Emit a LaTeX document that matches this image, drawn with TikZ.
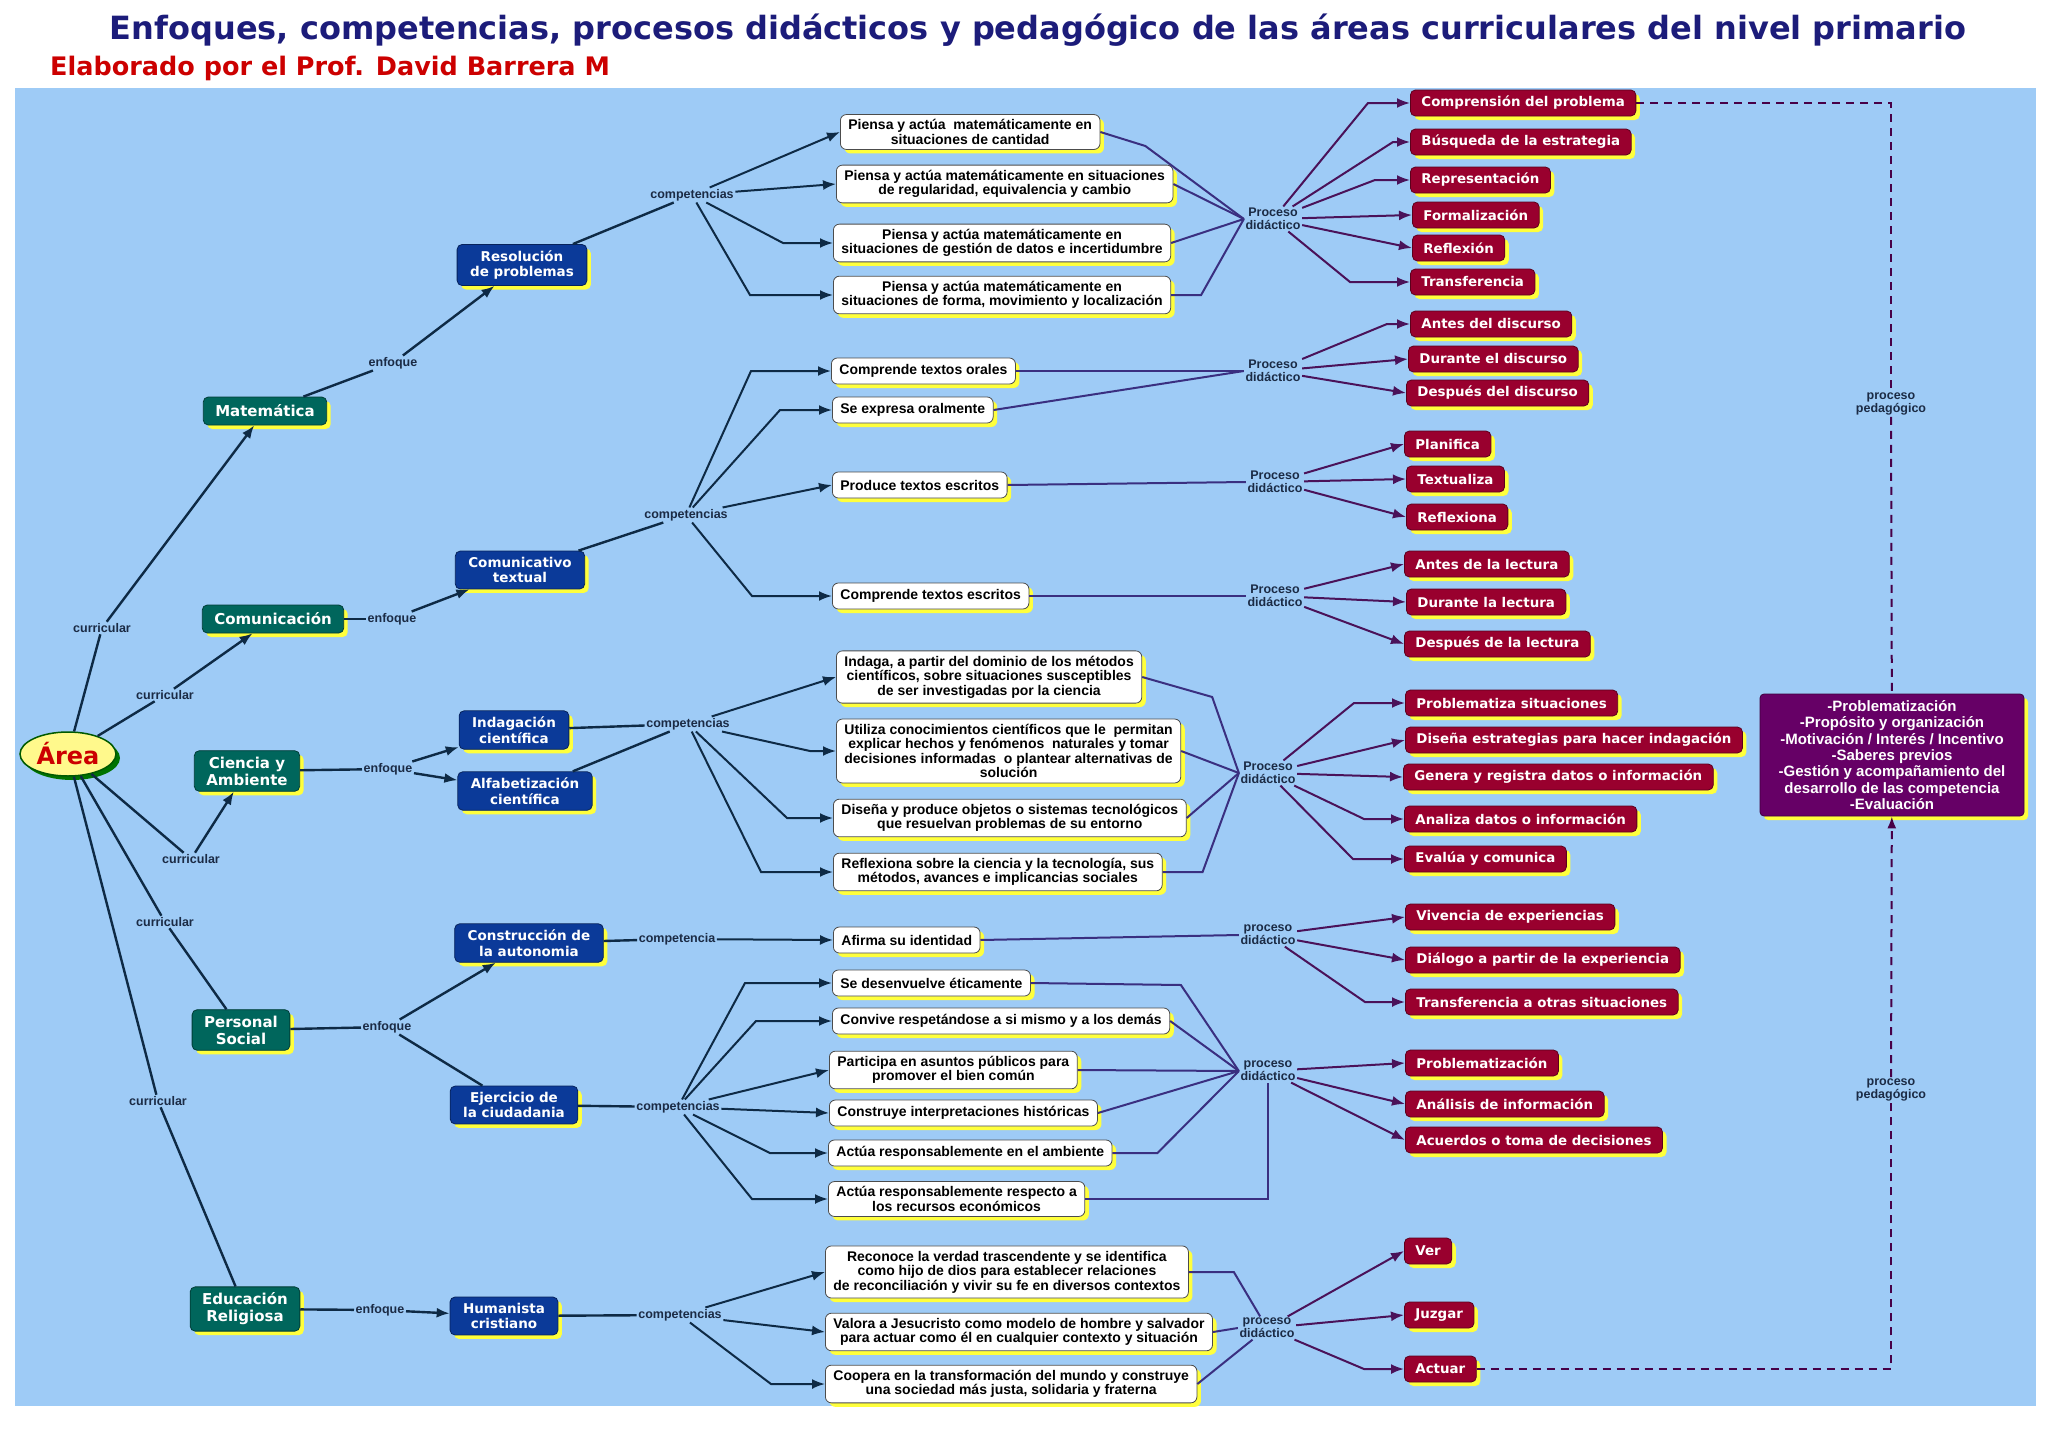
\documentclass[tikz,border=0pt]{standalone}
\usepackage{fontspec}
\setmainfont{Liberation Sans}
\newfontfamily\dvfont{DejaVu Sans}
\usetikzlibrary{arrows.meta, positioning, calc, shapes.geometric, shadows}
\definecolor{skybg}{HTML}{9ECBF6}
\definecolor{titlenavy}{HTML}{1C1C7A}
\definecolor{authorred}{HTML}{CC0000}
\definecolor{areagreen}{HTML}{00665C}
\definecolor{enfblue}{HTML}{0B3A99}
\definecolor{procred}{HTML}{99002E}
\definecolor{pedpurple}{HTML}{660066}
\definecolor{shyel}{HTML}{FFFF3C}
\definecolor{linkdark}{HTML}{0E2A45}
\definecolor{linkpurple}{HTML}{3A2F80}
\definecolor{procline}{HTML}{4A1259}
\definecolor{labtext}{HTML}{1B2B45}
\tikzset{
  yshadow/.style={drop shadow={shadow xshift=4pt, shadow yshift=-4pt, fill=shyel, opacity=1}},
  areanode/.style={
    ellipse, fill=yellow!45, draw=green!35!black, line width=1.5pt,
    minimum width=96pt, minimum height=44pt, inner sep=0pt,
    text=red!80!black, font=\dvfont\bfseries\fontsize{24}{26}\selectfont,
    drop shadow={shadow xshift=4pt, shadow yshift=-4pt, fill=green!45!black, opacity=1}
  },
  areabox/.style={
    rectangle, rounded corners=5pt,
    fill=areagreen, draw=areagreen!60!black, line width=0.8pt,
    minimum height=28pt, inner xsep=12pt, inner ysep=6pt,
    align=center, text=white, font=\dvfont\bfseries\fontsize{15}{17}\selectfont, yshadow
  },
  enfbox/.style={areabox, fill=enfblue, draw=enfblue!60!black, inner xsep=13pt,
    font=\dvfont\bfseries\fontsize{13.5}{15.5}\selectfont},
  compbox/.style={
    rectangle, rounded corners=6pt,
    fill=white, draw=gray!60!black, line width=0.8pt,
    minimum height=26pt, inner xsep=8pt, inner ysep=5pt, anchor=west,
    align=center, text=black, font=\bfseries\fontsize{14}{14.5}\selectfont, yshadow
  },
  procbox/.style={
    rectangle, rounded corners=5pt,
    fill=procred, draw=procred!60!black, line width=0.8pt,
    minimum height=26pt, inner xsep=11pt, anchor=west,
    text=white, font=\dvfont\bfseries\fontsize{13.4}{15}\selectfont, yshadow
  },
  pedbox/.style={
    rectangle, rounded corners=4pt,
    fill=pedpurple, draw=pedpurple!60!black, line width=0.8pt,
    minimum width=264pt, minimum height=122pt, align=center,
    text=white, font=\bfseries\fontsize{15}{16.3}\selectfont, yshadow
  },
  linklabel/.style={font=\bfseries\fontsize{12.5}{13}\selectfont, text=labtext, align=center, inner sep=1.5pt},
  titletext/.style={font=\dvfont\bfseries\fontsize{32}{35}\selectfont, text=titlenavy},
  authortext/.style={font=\dvfont\bfseries\fontsize{25.5}{28}\selectfont, text=authorred, inner sep=0pt},
  lk/.style={draw=linkdark, line width=2.4pt},
  lkarr/.style={lk, -{Latex[length=13pt,width=10pt]}},
  carr/.style={draw=linkdark, line width=2pt, -{Latex[length=13pt,width=10pt]}},
  cline/.style={draw=linkpurple, line width=2pt},
  parr/.style={draw=procline, line width=2pt, -{Latex[length=13pt,width=10pt]}},
  pedline/.style={draw=pedpurple!70!black, line width=2pt, dash pattern=on 8pt off 6pt},
}
\begin{document}
\begin{tikzpicture}[x=1pt, y=-1pt]
  \useasboundingbox (0,0) rectangle (2048,1448);
  \fill[white] (0,0) rectangle (2048,1448);
  \fill[skybg] (15,88) rectangle (2036,1406);

  % titulo
  \node[titletext] (title) at (1038,30) {Enfoques, competencias, procesos didácticos y pedagógico de las áreas curriculares del nivel primario};
  \node[authortext, anchor=west] (author) at (50,68) {Elaborado por el Prof. David Barrera M};

  % area y areas curriculares
  \node[areanode] (area) at (68,754) {Área};
  \node[areabox] (mat) at (265,411) {Matemática};
  \node[areabox] (com) at (273,619) {Comunicación};
  \node[areabox] (cya) at (247,771) {Ciencia y\\Ambiente};
  \node[areabox] (pso) at (241,1030) {Personal\\Social};
  \node[areabox] (edr) at (245,1309) {Educación\\Religiosa};

  % enfoques
  \node[enfbox] (rdp) at (522,265) {Resolución\\de problemas};
  \node[enfbox] (ctx) at (520,570) {Comunicativo\\textual};
  \node[enfbox] (ind) at (514,730) {Indagación\\científica};
  \node[enfbox] (alf) at (525,791) {Alfabetización\\científica};
  \node[enfbox] (cau) at (529,943) {Construcción de\\la autonomia};
  \node[enfbox] (eci) at (514,1105) {Ejercicio de\\la ciudadania};
  \node[enfbox] (hcr) at (504,1316) {Humanista\\cristiano};

  % palabras de enlace
  \node[linklabel] (cur1) at (102,628) {curricular};
  \node[linklabel] (cur2) at (165,695) {curricular};
  \node[linklabel] (cur3) at (191,859) {curricular};
  \node[linklabel] (cur4) at (165,922) {curricular};
  \node[linklabel] (cur5) at (158,1101) {curricular};
  \node[linklabel] (enf1) at (393,363) {enfoque};
  \node[linklabel] (enf2) at (392,619) {enfoque};
  \node[linklabel] (enf3) at (388,769) {enfoque};
  \node[linklabel] (enf4) at (387,1027) {enfoque};
  \node[linklabel] (enf5) at (380,1310) {enfoque};
  \node[linklabel] (cmp1) at (692,195) {competencias};
  \node[linklabel] (cmp2) at (686,515) {competencias};
  \node[linklabel] (cmp3) at (688,724) {competencias};
  \node[linklabel] (cmp4) at (677,939) {competencia};
  \node[linklabel] (cmp5) at (678,1107) {competencias};
  \node[linklabel] (cmp6) at (680,1315) {competencias};
  \node[linklabel] (pd1) at (1273,219) {Proceso\\didáctico};
  \node[linklabel] (pd2) at (1273,371) {Proceso\\didáctico};
  \node[linklabel] (pd3) at (1275,482) {Proceso\\didáctico};
  \node[linklabel] (pd4) at (1275,596) {Proceso\\didáctico};
  \node[linklabel] (pd5) at (1268,773) {Proceso\\didáctico};
  \node[linklabel] (pd6) at (1268,935) {proceso\\didáctico};
  \node[linklabel] (pd7) at (1268,1071) {proceso\\didáctico};
  \node[linklabel] (pd8) at (1267,1328) {proceso\\didáctico};
  \node[linklabel] (ppl1) at (1891,404) {proceso\\pedagógico};
  \node[linklabel] (ppl2) at (1891,1090) {proceso\\pedagógico};

  % competencias
  \node[compbox] (m1) at (840,132) {Piensa y actúa \ matemáticamente en\\situaciones de cantidad};
  \node[compbox] (m2) at (836,184) {Piensa y actúa matemáticamente en situaciones\\de regularidad, equivalencia y cambio};
  \node[compbox] (m3) at (833,243) {Piensa y actúa matemáticamente en\\situaciones de gestión de datos e incertidumbre};
  \node[compbox] (m4) at (833,295) {Piensa y actúa matemáticamente en\\situaciones de forma, movimiento y localización};
  \node[compbox] (c1) at (831,371) {Comprende textos orales};
  \node[compbox] (c2) at (832,410) {Se expresa oralmente};
  \node[compbox] (c3) at (832,485) {Produce textos escritos};
  \node[compbox] (c4) at (832,596) {Comprende textos escritos};
  \node[compbox] (s1) at (836,677) {Indaga, a partir del dominio de los métodos\\científicos, sobre situaciones susceptibles\\de ser investigadas por la ciencia};
  \node[compbox] (s2) at (836,751) {Utiliza conocimientos científicos que le \ permitan\\explicar hechos y fenómenos \ naturales y tomar\\decisiones informadas \ o plantear alternativas de\\solución};
  \node[compbox] (s3) at (833,818) {Diseña y produce objetos o sistemas tecnológicos\\que resuelvan problemas de su entorno};
  \node[compbox] (s4) at (833,872) {Reflexiona sobre la ciencia y la tecnología, sus\\métodos, avances e implicancias sociales};
  \node[compbox] (p0) at (833,940) {Afirma su identidad};
  \node[compbox] (p1) at (832,983) {Se desenvuelve éticamente};
  \node[compbox] (p2) at (832,1021) {Convive respetándose a si mismo y a los demás};
  \node[compbox] (p3) at (829,1070) {Participa en asuntos públicos para\\promover el bien común};
  \node[compbox] (p4) at (829,1113) {Construye interpretaciones históricas};
  \node[compbox] (p5) at (828,1153) {Actúa responsablemente en el ambiente};
  \node[compbox] (p6) at (828,1199) {Actúa responsablemente respecto a\\los recursos económicos};
  \node[compbox] (r1) at (825,1272) {Reconoce la verdad trascendente y se identifica\\como hijo de dios para establecer relaciones\\de reconciliación y vivir su fe en diversos contextos};
  \node[compbox] (r2) at (825,1332) {Valora a Jesucristo como modelo de hombre y salvador\\para actuar como él en cualquier contexto y situación};
  \node[compbox] (r3) at (825,1384) {Coopera en la transformación del mundo y construye\\una sociedad más justa, solidaria y fraterna};

  % procesos didacticos
  \node[procbox] (rp1) at (1410,103) {Comprensión del problema};
  \node[procbox] (rp2) at (1410,142) {Búsqueda de la estrategia};
  \node[procbox] (rp3) at (1410,180) {Representación};
  \node[procbox] (rp4) at (1412,215) {Formalización};
  \node[procbox] (rp5) at (1412,248) {Reflexión};
  \node[procbox] (rp6) at (1410,282) {Transferencia};
  \node[procbox] (ro1) at (1410,324) {Antes del discurso};
  \node[procbox] (ro2) at (1408,359) {Durante el discurso};
  \node[procbox] (ro3) at (1406,393) {Después del discurso};
  \node[procbox] (re1) at (1404,444) {Planifica};
  \node[procbox] (re2) at (1406,479) {Textualiza};
  \node[procbox] (re3) at (1406,517) {Reflexiona};
  \node[procbox] (rl1) at (1404,564) {Antes de la lectura};
  \node[procbox] (rl2) at (1406,602) {Durante la lectura};
  \node[procbox] (rl3) at (1404,644) {Después de la lectura};
  \node[procbox] (rc1) at (1405,703) {Problematiza situaciones};
  \node[procbox] (rc2) at (1405,740) {Diseña estrategias para hacer indagación};
  \node[procbox] (rc3) at (1403,777) {Genera y registra datos o información};
  \node[procbox] (rc4) at (1404,819) {Analiza datos o información};
  \node[procbox] (rc5) at (1404,859) {Evalúa y comunica};
  \node[procbox] (rs1) at (1405,917) {Vivencia de experiencias};
  \node[procbox] (rs2) at (1405,960) {Diálogo a partir de la experiencia};
  \node[procbox] (rs3) at (1405,1002) {Transferencia a otras situaciones};
  \node[procbox] (rs4) at (1405,1063) {Problematización};
  \node[procbox] (rs5) at (1405,1104) {Análisis de información};
  \node[procbox] (rs6) at (1405,1140) {Acuerdos o toma de decisiones};
  \node[procbox] (rr1) at (1404,1251) {Ver};
  \node[procbox] (rr2) at (1404,1315) {Juzgar};
  \node[procbox] (rr3) at (1404,1369) {Actuar};

  % proceso pedagogico
  \node[pedbox] (pbox) at (1892,755) {-Problematización\\-Propósito y organización\\-Motivación / Interés / Incentivo\\-Saberes previos\\-Gestión y acompañamiento del\\desarrollo de las competencia\\-Evaluación};

  % area -> areas
  \draw[lk] (area) -- (cur1);  \draw[lkarr] (cur1) -- (mat);
  \draw[lk] (area) -- (cur2);  \draw[lkarr] (cur2) -- (com);
  \draw[lk] (area) -- (cur3);  \draw[lkarr] (cur3) -- (cya);
  \draw[lk] (area) -- (cur4) -- (pso);
  \draw[lk] (area) -- (cur5) -- (edr);

  % areas -> enfoques
  \draw[lk] (mat) -- (enf1);  \draw[lkarr] (enf1) -- (rdp);
  \draw[lk] (com) -- (enf2);  \draw[lkarr] (enf2) -- (ctx);
  \draw[lk] (cya) -- (enf3);  \draw[lkarr] (enf3) -- (ind);  \draw[lkarr] (enf3) -- (alf);
  \draw[lk] (pso) -- (enf4);  \draw[lkarr] (enf4) -- (cau);  \draw[lk] (enf4) -- (eci);
  \draw[lk] (edr) -- (enf5);  \draw[lkarr] (enf5) -- (hcr);

  % enfoques -> competencias
  \draw[lk] (rdp) -- (cmp1);
  \draw[lk] (ctx) -- (cmp2);
  \draw[lk] (ind) -- (cmp3);  \draw[lk] (alf) -- (cmp3);
  \draw[lk] (cau) -- (cmp4);  \draw[carr] (cmp4) -- (p0.west);
  \draw[lk] (eci) -- (cmp5);
  \draw[lk] (hcr) -- (cmp6);

  \foreach \t in {m1, m2} \draw[carr] (cmp1) -- (\t.west);
  \foreach \t/\d in {m3/50, m4/83} \draw[carr] (cmp1) -- ($(\t.west)+(-\d,0)$) -- (\t.west);
  \draw[carr] (cmp2) -- (c3.west);
  \foreach \t/\d in {c1/80, c2/52, c4/80} \draw[carr] (cmp2) -- ($(\t.west)+(-\d,0)$) -- (\t.west);
  \draw[carr] (cmp3) -- (s1.west);
  \foreach \t/\d in {s2/26, s3/46, s4/72} \draw[carr] (cmp3) -- ($(\t.west)+(-\d,0)$) -- (\t.west);
  \foreach \t in {p3, p4} \draw[carr] (cmp5) -- (\t.west);
  \foreach \t/\d in {p1/87, p2/76, p5/58, p6/76} \draw[carr] (cmp5) -- ($(\t.west)+(-\d,0)$) -- (\t.west);
  \foreach \t in {r1, r2} \draw[carr] (cmp6) -- (\t.west);
  \draw[carr] (cmp6) -- ($(r3.west)+(-54,0)$) -- (r3.west);

  % competencias -> proceso didactico
  \draw[cline] (m1.east) -- ++(45,14) -- (pd1.west);
  \draw[cline] (m2.east) -- (pd1.west);
  \draw[cline] (m3.east) -- (pd1.west);
  \draw[cline] (m4.east) -- ++(30,0) -- (pd1.west);
  \draw[cline] (c1.east) -- (pd2.west);
  \draw[cline] (c2.east) -- (pd2.west);
  \draw[cline] (c3.east) -- (pd3.west);
  \draw[cline] (c4.east) -- (pd4.west);
  \draw[cline] (s1.east) -- ++(70,20) -- (pd5.west);
  \draw[cline] (s2.east) -- (pd5.west);
  \draw[cline] (s3.east) -- (pd5.west);
  \draw[cline] (s4.east) -- ++(40,0) -- (pd5.west);
  \draw[cline] (p0.east) -- (pd6.west);
  \draw[cline] (p1.east) -- ++(150,2) -- (pd7.west);
  \foreach \t in {p2, p3, p4} \draw[cline] (\t.east) -- (pd7.west);
  \draw[cline] (p5.east) -- ++(45,0) -- (pd7.west);
  \draw[cline] (p6.east) -- (p6.east -| pd7) -- (pd7);
  \draw[cline] (r1.east) -- ++(45,0) -- (pd8);
  \draw[cline] (r2.east) -- (pd8.west);
  \draw[cline] (r3.east) -- (pd8);

  % proceso didactico -> pasos
  \foreach \t/\d in {rp1/42, rp2/17, rp3/35, rp6/60} \draw[parr] (pd1) -- ($(\t.west)+(-\d,0)$) -- (\t.west);
  \foreach \t in {rp4, rp5} \draw[parr] (pd1) -- (\t.west);
  \draw[parr] (pd2) -- ($(ro1.west)+(-23,0)$) -- (ro1.west);
  \foreach \t in {ro2, ro3} \draw[parr] (pd2) -- (\t.west);
  \foreach \t in {re1, re2, re3} \draw[parr] (pd3) -- (\t.west);
  \foreach \t in {rl1, rl2, rl3} \draw[parr] (pd4) -- (\t.west);
  \foreach \t/\d in {rc1/51, rc4/40, rc5/51} \draw[parr] (pd5) -- ($(\t.west)+(-\d,0)$) -- (\t.west);
  \foreach \t in {rc2, rc3} \draw[parr] (pd5) -- (\t.west);
  \foreach \t in {rs1, rs2} \draw[parr] (pd6) -- (\t.west);
  \draw[parr] (pd6) -- ($(rs3.west)+(-40,0)$) -- (rs3.west);
  \foreach \t in {rs4, rs5, rs6} \draw[parr] (pd7) -- (\t.west);
  \foreach \t in {rr1, rr2} \draw[parr] (pd8) -- (\t.west);
  \draw[parr] (pd8) -- ($(rr3.west)+(-40,0)$) -- (rr3.west);

  % proceso pedagogico
  \draw[pedline] (rp1.east) -- (rp1.east -| ppl1) -- (ppl1);
  \draw[pedline] (ppl1) -- (pbox);
  \draw[pedline] (rr3.east) -- (rr3.east -| ppl2) -- (ppl2);
  \draw[pedline, -{Latex[length=12pt,width=9pt]}] (ppl2) -- (pbox);
\end{tikzpicture}
\end{document}
